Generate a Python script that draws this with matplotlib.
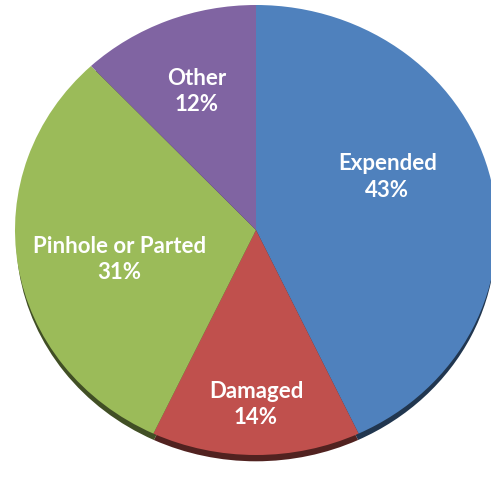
import matplotlib.pyplot as plt
from matplotlib.colors import to_rgb

labels = ["Expended", "Damaged", "Pinhole or Parted", "Other"]
shares = [43, 14, 31, 12]
colors = ["#4F81BD", "#C0504D", "#9BBB59", "#8064A2"]

# label centres in pie units (x, y), placed like the original best-fit layout
label_pos = [(0.545, 0.24), (0.0, -0.773), (-0.568, -0.128), (-0.245, 0.618)]

W, H = 491, 481
fig = plt.figure(figsize=(W / 100, H / 100), dpi=100)
# pie is slightly wider than tall in the reference
ax = fig.add_axes([15 / W, (H - 456) / H, 482 / W, 450 / H])

# dark rim under the pie
dark = [tuple(c * 0.42 for c in to_rgb(col)) for col in colors]
ax.pie(shares, colors=dark, startangle=90, counterclock=False,
       center=(0.0, -0.033), radius=0.995,
       wedgeprops=dict(linewidth=0))

ax.pie(shares, colors=colors, startangle=90, counterclock=False,
       radius=1.0, wedgeprops=dict(linewidth=0))

for (x, y), lab, val in zip(label_pos, labels, shares):
    ax.text(x, y, f"{lab}\n{val}%", ha="center", va="center",
            color="white", fontsize=16, fontweight="bold",
            family="Lato", linespacing=1.3)

ax.set_aspect("auto")
ax.set_xlim(-1, 1)
ax.set_ylim(-1, 1)
ax.axis("off")

fig.savefig("out.png", dpi=100, facecolor="white")
